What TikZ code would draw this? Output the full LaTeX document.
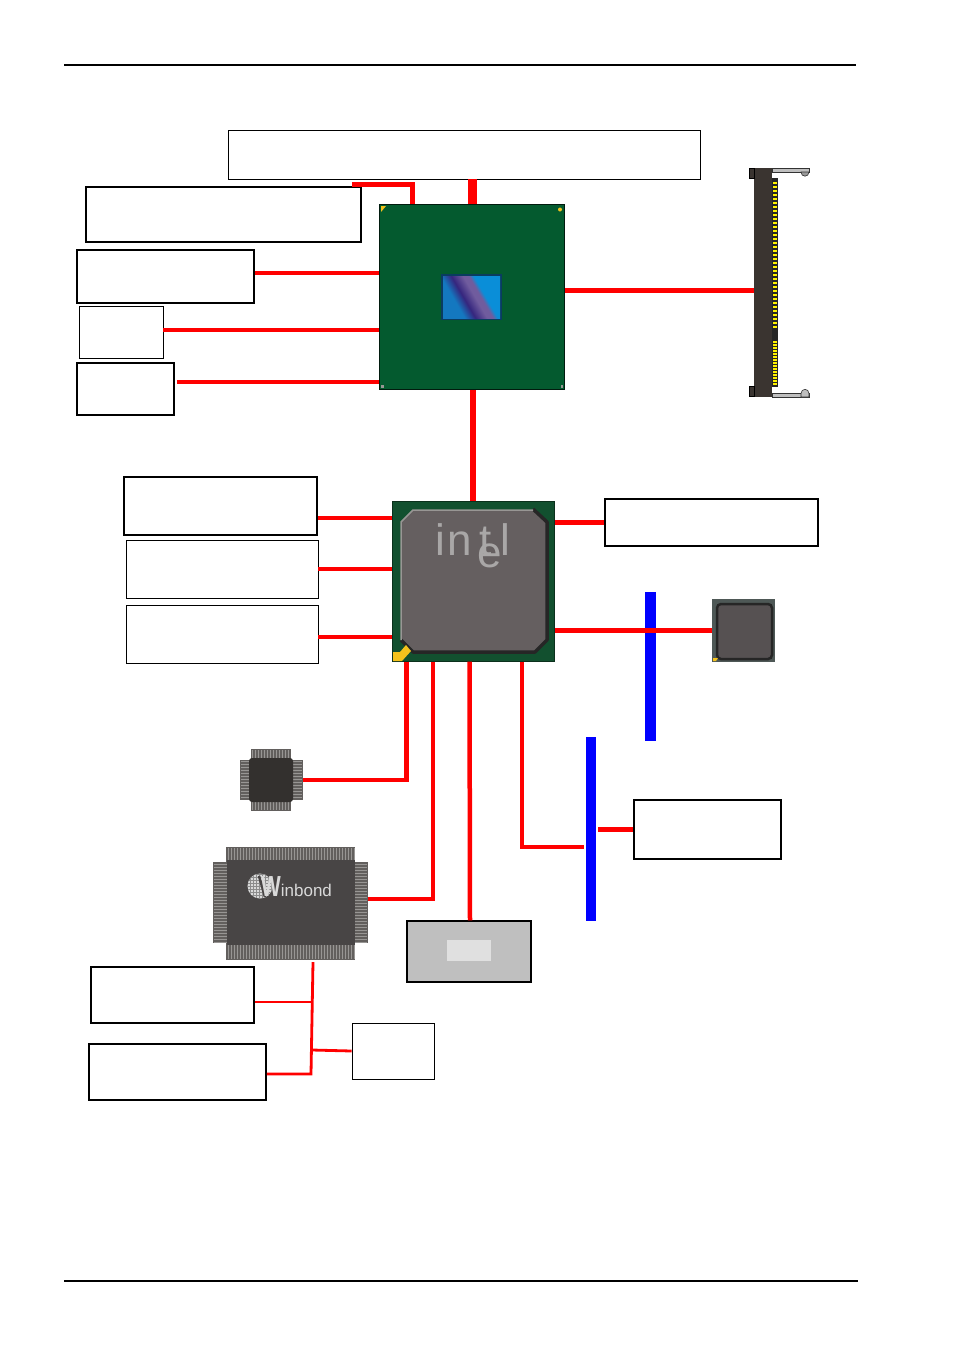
\documentclass[tikz,border=0pt]{standalone}
\usepackage{fontspec}
\setmainfont{Liberation Sans}
\definecolor{boardgreen}{HTML}{045A2F}
\definecolor{ichgreen}{HTML}{12502F}
\definecolor{diegray}{HTML}{655F60}
\definecolor{qfpdark}{HTML}{33302E}
\definecolor{wbdark}{HTML}{484545}
\definecolor{pingray}{HTML}{989694}
\definecolor{pindark}{HTML}{625F5D}
\definecolor{sockdark}{HTML}{3A3430}
\definecolor{logogray}{HTML}{A9A7A7}
\definecolor{markyellow}{HTML}{F4C21C}
\definecolor{lanframe}{HTML}{4E5856}
\definecolor{sheena}{HTML}{1478C0}
\definecolor{sheenb}{HTML}{35267E}
\definecolor{sheenc}{HTML}{705C9E}
\definecolor{sheend}{HTML}{0A8ED8}
\pgfdeclarehorizontalshading{diesheen}{100bp}{color(0bp)=(sheena);color(34bp)=(sheena);color(43bp)=(sheenb);color(53bp)=(sheenc);color(58bp)=(sheenc);color(62bp)=(sheend);color(100bp)=(sheend)}
\begin{document}
\begin{tikzpicture}
    [x=1pt,y=-1pt,
    labelbox/.style 2 args = {draw=black,fill=white,line width=1.5pt,inner sep=0pt,
                              minimum width=#1pt,minimum height=#2pt},
    thinbox/.style = {line width=0.9pt},
    chip/.style 2 args = {inner sep=0pt,minimum width=#1pt,minimum height=#2pt},
    link/.style = {draw=red,line width=4.5pt},
    thinlink/.style = {draw=red,line width=2.8pt},
    bar/.style = {fill=blue,inner sep=0pt},
    pin/.style = {draw=pingray,line width=1pt}]
    \useasboundingbox (0,0) rectangle (954,1350);
    % page rules
    \draw[line width=2pt] (64,65) -- (856,65);
    \draw[line width=2pt] (64,1281) -- (858,1281);
    % north bridge
    \node[chip={185}{185},fill=boardgreen,draw=black!70!boardgreen,line width=1pt] (gmch) at (472,297) {};
    \fill[black!50!sheena] (441,274) rectangle (502,320);
    \shade[shading=diesheen,shading angle=30] (443,276) rectangle (500,318);
    \fill[markyellow] (381,206) -- (386,206) -- (381,212) -- cycle;
    \fill[markyellow] (560,209.5) circle (2);
    \fill[pingray] (381,385) rectangle (384,388);
    \fill[pingray] (561,385) rectangle (563,388);
    % south bridge
    \node[chip={162}{160},fill=ichgreen,draw=black!40!ichgreen,line width=1pt] (ich) at (473,581) {};
    \fill[diegray]
        (413,510) -- (535,510) -- (547,522) -- (547,640) -- (535,652) -- (413,652) -- (401,640) -- (401,522) -- cycle;
    \draw[black!85,line width=3.5pt,line join=round] (533,509) -- (547,522) -- (547,640) -- (535,652) -- (413,652) -- (401,640);
    \draw[pingray,line width=1.5pt] (401,640) -- (401,522) -- (413,510) -- (533,510);
    \node[text=logogray,font=\fontsize{44}{44}\selectfont,inner sep=0pt,anchor=base west] (intelmark) at (435,555)
        {i\kern3pt n\kern7pt t\kern-14pt\raisebox{-12pt}{e}\kern-1.5pt l};
    \fill[markyellow] (393,661) -- (393,652) -- (400,652) -- (406,645) -- (411,651) -- (402,661) -- cycle;
    % small boxes on the north bridge
    \node[labelbox={472}{49},thinbox] (vga) at (464,154.5) {};
    \node[labelbox={275}{55}] (lvds) at (223.5,214.5) {};
    \node[labelbox={177}{53}] (tvout) at (165.5,276.5) {};
    \node[labelbox={84}{52},thinbox] (crt) at (121,332) {};
    \node[labelbox={97}{52}] (dvi) at (125.5,389) {};
    % boxes left and right of the south bridge
    \node[labelbox={193}{58}] (sata) at (220.5,506) {};
    \node[labelbox={192}{58},thinbox] (usb) at (222,569) {};
    \node[labelbox={192}{58},thinbox] (audio) at (222,634) {};
    \node[labelbox={213}{47}] (ide) at (711.5,522.5) {};
    \node[labelbox={147}{59}] (pcislot) at (707.5,829.5) {};
    \node[labelbox={163}{56}] (kbms) at (172.5,995) {};
    \node[labelbox={177}{56}] (serial) at (177.5,1072) {};
    \node[labelbox={82}{56},thinbox] (lpt) at (393,1051) {};
    % buses
    \node[bar,minimum width=11pt,minimum height=149pt] (busa) at (650.5,666.5) {};
    \node[bar,minimum width=10pt,minimum height=184pt] (busb) at (591,829) {};
    % lan chip
    \node[chip={63}{63},fill=lanframe] (lan) at (743.5,630.5) {};
    \filldraw[fill=diegray!85!black,draw=black!85,line width=2.5pt,rounded corners=4pt] (717,604) rectangle (772,659);
    \fill[markyellow] (713,661) -- (713,658) -- (718,658) -- (716,661) -- cycle;
    % audio codec
    \node[chip={63}{62}] (codec) at (271.5,780) {};
    \fill[pindark] (251,749) rectangle (291,811);
    \fill[pindark] (240,760) rectangle (303,800);
    \foreach \p in {252,255,...,290} \draw[pin] (\p,750) -- (\p,758) (\p,802) -- (\p,810);
    \foreach \p in {761,764,...,799} \draw[pin] (241,\p) -- (249,\p) (293,\p) -- (302,\p);
    \fill[qfpdark,rounded corners=3pt] (249,758) rectangle (293,802);
    % super io
    \node[chip={155}{113}] (sio) at (290.5,903.5) {};
    \fill[pindark] (226,847) rectangle (355,960);
    \fill[pindark] (213,862) rectangle (368,943);
    \foreach \p in {228,231,...,354} \draw[pin] (\p,848) -- (\p,860) (\p,945) -- (\p,959);
    \foreach \p in {864,867,...,942} \draw[pin] (214,\p) -- (227,\p) (355,\p) -- (367,\p);
    \fill[wbdark] (227,860) rectangle (355,945);
    \begin{scope}
        \clip (260,886) circle (12.5);
        \fill[black!15] (247,872) rectangle (275,900);
        \foreach \p in {250,253,...,274} \draw[black!45,line width=0.5pt] (\p,872) -- (\p,900);
        \foreach \p in {874,877,...,900} \draw[black!45,line width=0.5pt] (247,\p) -- (275,\p);
    \end{scope}
    \draw[wbdark,line width=2.5pt] (259,876) -- (265,897);
    \node[text=black!15,font=\fontsize{17}{17}\selectfont,inner sep=0pt,anchor=base west] (wblogo) at (261,896.5)
        {\fontsize{29}{29}\selectfont\bfseries\scalebox{0.72}[1]{W}\fontsize{17}{17}\selectfont\mdseries inbond};
    % gray card
    \node[chip={124}{61},fill=black!25,draw=black,line width=1.5pt] (card) at (469,951.5) {};
    \node[chip={44}{21},fill=black!12] (cardtag) at (469,950.5) {};
    % sodimm socket
    \node[chip={18}{229},fill=sockdark] (sodimm) at (763,282.5) {};
    \filldraw[fill=sockdark,draw=black] (749.5,168.5) rectangle (754,178.5);
    \filldraw[fill=sockdark,draw=black] (749.5,386.5) rectangle (754,396.5);
    \fill[black!85] (772,178) rectangle (778,387);
    \foreach \p in {183,187,...,328} \draw[yellow,line width=2pt] (773,\p) -- (777,\p);
    \foreach \p in {342,345,...,384} \draw[yellow,line width=2pt] (773,\p) -- (777,\p);
    \filldraw[fill=black!25,draw=black!80,line width=0.6pt] (772,168.5) rectangle (809,172);
    \filldraw[fill=black!40,draw=black!80,line width=0.6pt] (801,172) .. controls (801,177.5) and (809,177.5) .. (809,172) -- cycle;
    \filldraw[fill=black!25,draw=black!80,line width=0.6pt] (772,393.5) rectangle (809,397);
    \filldraw[fill=black!25,draw=black!80,line width=0.6pt] (801,393.5) .. controls (801,388) and (809,388) .. (809,393.5) -- (809,397) -- (801,397) -- cycle;
    % connectors, north bridge
    \draw[link,line width=9pt] (gmch.north) -- (gmch.north |- vga.south);
    \draw[link] ([xshift=128.5pt,yshift=2pt]lvds.north) -| ([xshift=-59.5pt]gmch.north);
    \draw[link] ([yshift=3.5pt]tvout.east) -- ([yshift=3.5pt]tvout.east -| gmch.west);
    \draw[link] ([yshift=2pt]crt.east) -- ([yshift=2pt]crt.east -| gmch.west);
    \draw[link,shorten <=2pt] ([yshift=7pt]dvi.east) -- ([yshift=7pt]dvi.east -| gmch.west);
    \draw[link,line width=5.5pt] ([yshift=6.5pt]gmch.east) -- ([yshift=6.5pt]gmch.east -| sodimm.west);
    \draw[link,line width=6pt] (ich.north) -- (ich.north |- gmch.south);
    % connectors, south bridge
    \draw[link] ([yshift=-12pt]sata.east) -- ([yshift=-12pt]sata.east -| ich.west);
    \draw[link] (usb.east) -- (usb.east -| ich.west);
    \draw[link] ([yshift=-3pt]audio.east) -- ([yshift=-3pt]audio.east -| ich.west);
    \draw[link,line width=5.5pt] (ide.west) -- (ide.west -| ich.east);
    \draw[link] (ich.east |- lan.west) -- (lan.west);
    \draw[link] ([xshift=-66.5pt]ich.south) |- (codec.east);
    \draw[link] ([xshift=-40pt]ich.south) |- ([yshift=4.5pt]sio.east);
    \draw[link] ([xshift=-3.5pt]ich.south) -- ([xshift=1pt]card.north);
    \draw[link] ([xshift=49pt]ich.south) |- ([yshift=-18pt,xshift=-2pt]busb.west);
    \draw[link,shorten <=2pt] (busb.east |- pcislot.west) -- (pcislot.west);
    % connectors, super io
    \coordinate (siodrop) at (311,1074);
    \coordinate (siotap) at (313,1002);
    \coordinate (siomid) at (312,1050);
    \draw[thinlink] ([xshift=22.5pt,yshift=-2pt]sio.south) -- (siodrop) -- ([yshift=-2pt]serial.east);
    \draw[thinlink] ([yshift=-7pt]kbms.east) -- (siotap);
    \draw[thinlink] (siomid) -- (lpt.west);
\end{tikzpicture}
\end{document}
